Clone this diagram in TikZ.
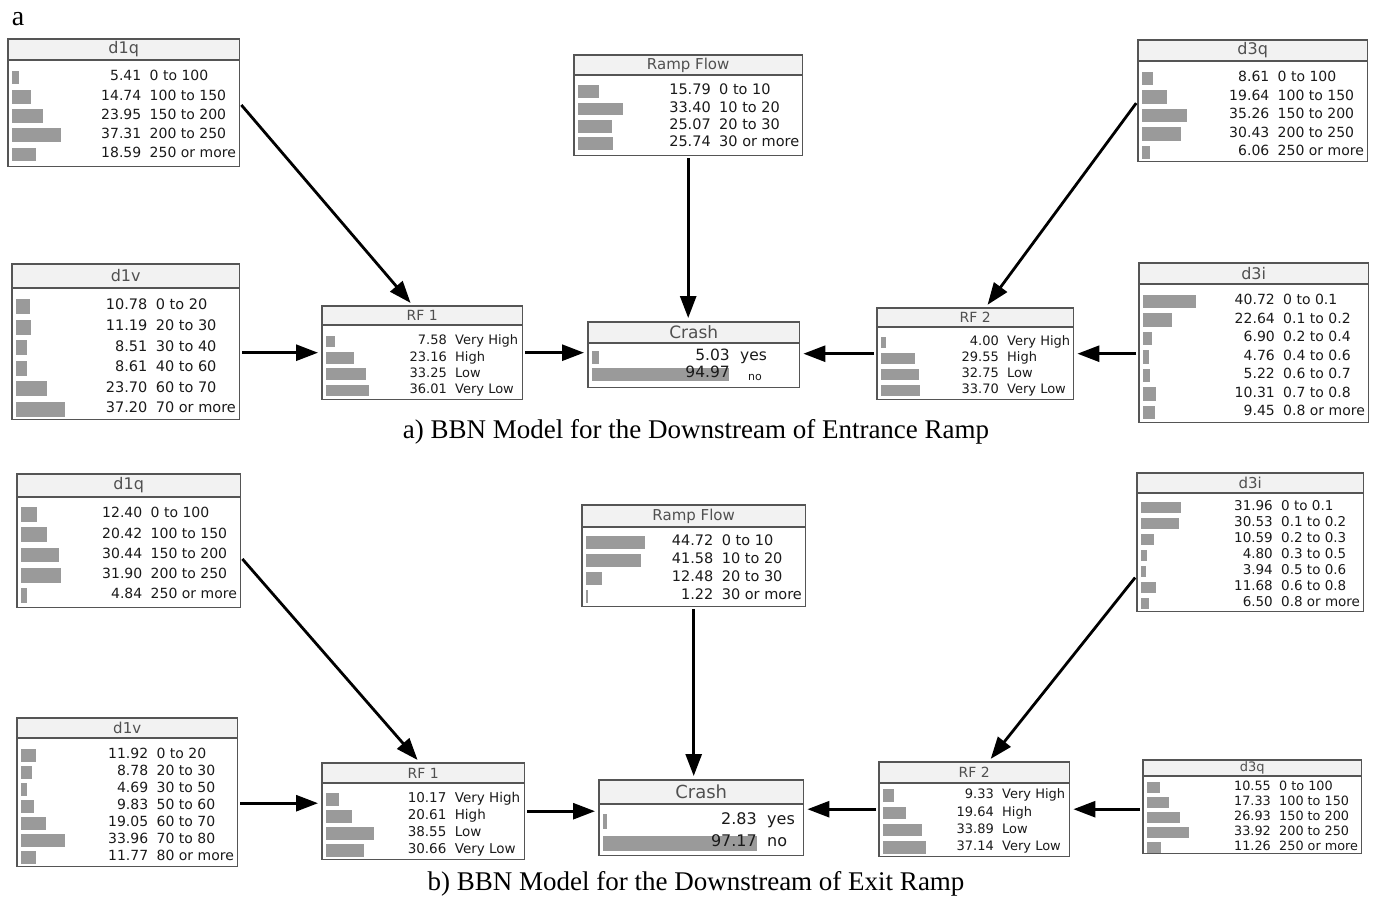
\documentclass[tikz,border=0pt]{standalone}
\usepackage{fontspec}
\setmainfont{Liberation Serif}
\newfontfamily\netfont{DejaVu Sans}
\usepackage{tikz}
\usetikzlibrary{arrows.meta}
\definecolor{boxline}{HTML}{555555}
\definecolor{titlefill}{HTML}{F2F2F2}
\definecolor{titletext}{HTML}{505050}
\definecolor{barfill}{HTML}{9A9A9A}
\definecolor{rowtext}{HTML}{1A1A1A}

\tikzset{
  bbnbox/.style={anchor=north west,inner sep=0pt,fill=white},
  bbnline/.style={draw=boxline,line width=1.2pt},
  bbnbar/.style={fill=barfill},
  rowtxt/.style={inner sep=0pt,yshift=-1pt,text=rowtext,font=\netfont\fontsize{\bbnfs}{\bbnfs}\selectfont},
  arr/.style={-{Triangle[length=22pt,width=16pt]},line width=2.8pt,shorten <=3pt,shorten >=4pt},
  caption/.style={font=\fontsize{27}{27}\selectfont}
}

% settings of one belief node
\pgfkeys{/bbn/.cd,
  left/.store in=\bbnleft, top/.store in=\bbntop,
  wd/.store in=\bbnwd, ht/.store in=\bbnht,
  th/.store in=\bbnth, first/.store in=\bbnfirst,
  dy/.store in=\bbndy, nx/.store in=\bbnnx, gap/.store in=\bbngap,
  k/.store in=\bbnk, fs/.store in=\bbnfs, tfs/.store in=\bbntfs,
  th=21, k=1.3, fs=14, tfs=15, gap=8}

% #1 settings, #2 name, #3 title, #4 value/state list
\newcommand{\bbnnode}[4]{%
  \begingroup
  \pgfkeys{/bbn/.cd,#1}%
  \node[bbnbox,minimum width=\bbnwd pt,minimum height=\bbnht pt] (#2) at (\bbnleft,\bbntop) {};
  \fill[titlefill] (#2.north west) rectangle ([yshift=-\bbnth pt]#2.north east);
  \draw[bbnline] ([yshift=-\bbnth pt]#2.north west) -- ([yshift=-\bbnth pt]#2.north east);
  \node[inner sep=0pt,text=titletext,font=\netfont\fontsize{\bbntfs}{\bbntfs}\selectfont]
    at ([yshift=-\bbnth pt/2]#2.north) {#3};
  \foreach \val/\lab [count=\i] in {#4}{%
    \pgfmathsetmacro\ry{\bbntop+\bbnfirst+2.5+(\i-1)*\bbndy}
    \fill[bbnbar] (\bbnleft+4,\ry-0.36*\bbndy) rectangle ++(\val*\bbnk,0.72*\bbndy);
    \node[rowtxt,anchor=mid east] at (\bbnleft+\bbnnx,\ry) {\val};
    \node[rowtxt,anchor=mid west] at (\bbnleft+\bbnnx+\bbngap,\ry) {\lab};
  }
  \draw[bbnline] (#2.north west) rectangle (#2.south east);
  \endgroup}

\begin{document}
\begin{tikzpicture}[x=1pt,y=-1pt]
\useasboundingbox (0,0) rectangle (1380,897);

\node[font=\fontsize{28}{28}\selectfont] (panel) at (18,19) {a};

% a) entrance ramp
\bbnnode{left=8,top=39,wd=231,ht=127,th=21,first=36,dy=19.25,nx=133.5,k=1.3,fs=14,tfs=16}{d1qA}{d1q}
  {5.41/0 to 100,14.74/100 to 150,23.95/150 to 200,37.31/200 to 250,18.59/250 or more}
\bbnnode{left=574,top=55,wd=228,ht=100,th=20,first=34,dy=17.4,nx=137,k=1.35,fs=14.5}{rampA}{Ramp Flow}
  {15.79/0 to 10,33.40/10 to 20,25.07/20 to 30,25.74/30 or more}
\bbnnode{left=1138,top=40,wd=229,ht=121,th=21,first=36,dy=18.5,nx=131.5,k=1.28,fs=14,tfs=16}{d3qA}{d3q}
  {8.61/0 to 100,19.64/100 to 150,35.26/150 to 200,30.43/200 to 250,6.06/250 or more}
\bbnnode{left=12,top=264,wd=227,ht=155,th=24,first=40,dy=20.6,nx=135.6,k=1.32,fs=14.5,tfs=16}{d1vA}{d1v}
  {10.78/0 to 20,11.19/20 to 30,8.51/30 to 40,8.61/40 to 60,23.70/60 to 70,37.20/70 or more}
\bbnnode{left=322,top=306,wd=200,ht=93,th=19,first=33,dy=16.3,nx=125,k=1.2,fs=13,tfs=14}{rf1A}{RF 1}
  {7.58/Very High,23.16/High,33.25/Low,36.01/Very Low}
\bbnnode{left=588,top=322,wd=211,ht=65,th=21,first=33,dy=17,nx=142,gap=10,k=1.44,fs=15.5,tfs=17}{crashA}{Crash}
  {5.03/yes,94.97/{\hspace*{8pt}\raisebox{-3pt}{\fontsize{11}{11}\selectfont no}}}
\bbnnode{left=877,top=308,wd=196,ht=91,th=19,first=32,dy=16,nx=122,k=1.16,fs=13,tfs=14}{rf2A}{RF 2}
  {4.00/Very High,29.55/High,32.75/Low,33.70/Very Low}
\bbnnode{left=1139,top=263,wd=229,ht=159,th=21,first=36,dy=18.5,nx=136,k=1.3,fs=14,tfs=16}{d3iA}{d3i}
  {40.72/0 to 0.1,22.64/0.1 to 0.2,6.90/0.2 to 0.4,4.76/0.4 to 0.6,5.22/0.6 to 0.7,10.31/0.7 to 0.8,9.45/0.8 or more}

\draw[arr] (d1qA.east) -- ([xshift=-9pt]rf1A.north);
\draw[arr] (d1vA.east |- rf1A.west) -- (rf1A.west);
\draw[arr] (rampA.south) -- (rampA.south |- crashA.north);
\draw[arr] (rf1A.east) -- (rf1A.east -| crashA.west);
\draw[arr] (rf2A.west) -- (rf2A.west -| crashA.east);
\draw[arr] (d3qA.west) -- ([xshift=10pt]rf2A.north);
\draw[arr] (d3iA.west |- rf2A.east) -- (rf2A.east);

\node[caption] (capA) at (696,432) {a) BBN Model for the Downstream of Entrance Ramp};

% b) exit ramp
\bbnnode{left=17,top=474,wd=223,ht=133,th=23,first=38,dy=20.25,nx=125.5,k=1.25,fs=14,tfs=16}{d1qB}{d1q}
  {12.40/0 to 100,20.42/100 to 150,30.44/150 to 200,31.90/200 to 250,4.84/250 or more}
\bbnnode{left=582,top=505,wd=223,ht=101,th=22,first=35,dy=18,nx=131.6,k=1.32,fs=14.5}{rampB}{Ramp Flow}
  {44.72/0 to 10,41.58/10 to 20,12.48/20 to 30,1.22/30 or more}
\bbnnode{left=1137,top=473,wd=226,ht=138,th=20,first=32,dy=16,nx=136,k=1.25,fs=13.5}{d3iB}{d3i}
  {31.96/0 to 0.1,30.53/0.1 to 0.2,10.59/0.2 to 0.3,4.80/0.3 to 0.5,3.94/0.5 to 0.6,11.68/0.6 to 0.8,6.50/0.8 or more}
\bbnnode{left=17,top=718,wd=220,ht=148,th=20,first=35,dy=17,nx=131.4,k=1.3,fs=14}{d1vB}{d1v}
  {11.92/0 to 20,8.78/20 to 30,4.69/30 to 50,9.83/50 to 60,19.05/60 to 70,33.96/70 to 80,11.77/80 or more}
\bbnnode{left=322,top=763,wd=202,ht=96,th=20,first=34,dy=17,nx=124.6,k=1.25,fs=13.5,tfs=14}{rf1B}{RF 1}
  {10.17/Very High,20.61/High,38.55/Low,30.66/Very Low}
\bbnnode{left=599,top=780,wd=204,ht=75,th=24,first=39,dy=22,nx=158,gap=10,k=1.58,fs=16,tfs=18}{crashB}{Crash}
  {2.83/yes,97.17/no}
\bbnnode{left=879,top=762,wd=190,ht=94,th=21,first=31,dy=17.3,nx=115,k=1.16,fs=13,tfs=14}{rf2B}{RF 2}
  {9.33/Very High,19.64/High,33.89/Low,37.14/Very Low}
\bbnnode{left=1143,top=760,wd=218,ht=93,th=16,first=25,dy=15,nx=128,k=1.24,fs=12.8,tfs=13}{d3qB}{d3q}
  {10.55/0 to 100,17.33/100 to 150,26.93/150 to 200,33.92/200 to 250,11.26/250 or more}

\coordinate (inB) at ([yshift=8pt]rf1B.west);
\draw[arr] ([yshift=-16pt]d1qB.east) -- ([xshift=-3pt]rf1B.north);
\draw[arr] (inB -| d1vB.east) -- (inB);
\draw[arr] (rampB.south) -- (rampB.south |- crashB.north);
\draw[arr] (rf1B.east) -- (rf1B.east -| crashB.west);
\draw[arr] (rf2B.west) -- (rf2B.west -| crashB.east);
\draw[arr] ([yshift=-33pt]d3iB.west) -- ([xshift=14pt]rf2B.north);
\draw[arr] (d3qB.west |- rf2B.east) -- (rf2B.east);

\node[caption] (capB) at (696,884) {b) BBN Model for the Downstream of Exit Ramp};
\end{tikzpicture}
\end{document}
